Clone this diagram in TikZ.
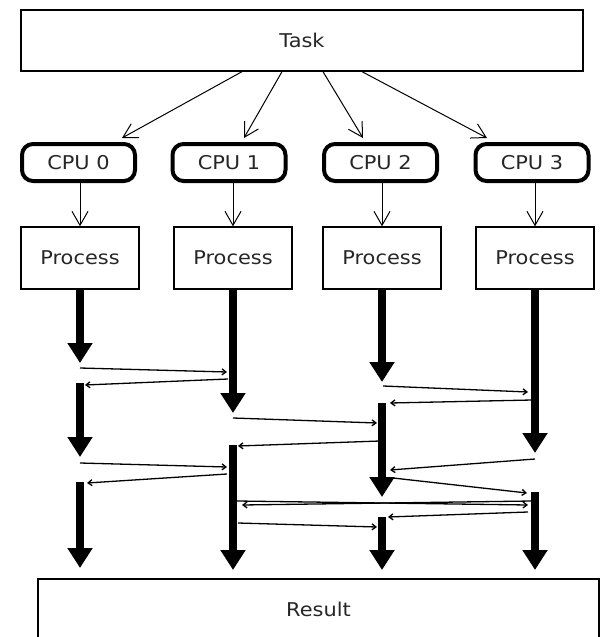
\documentclass[tikz,border=0pt]{standalone}
\usepackage{fontspec}
\setmainfont{DejaVu Sans}[FakeStretch=1.1]
\usetikzlibrary{arrows.meta}
\begin{document}
\begin{tikzpicture}[x=1pt,y=-1pt,
  every node/.style={font=\fontsize{19pt}{22pt}\selectfont, text=black!85, inner sep=0pt},
  plainbox/.style={draw, line width=1.3pt, rectangle},
  cpubox/.style={draw, line width=4pt, rounded corners=11pt, minimum width=113pt, minimum height=37pt},
  procbox/.style={plainbox, minimum width=118pt, minimum height=62pt},
  link/.style={line width=1pt, -{Straight Barb[length=14pt,width=16pt]}},
  flow/.style={line width=8pt, -{Triangle[length=20pt,width=24pt]}},
  msg/.style={line width=1.3pt, -{Straight Barb[length=4pt,width=6pt]}}]
\useasboundingbox (0,0) rectangle (604,637);

% task and result
\node[plainbox, minimum width=562pt, minimum height=61pt] (task) at (302,40.5) {Task};
\node[plainbox, minimum width=561pt, minimum height=60pt] (result) at (318.5,609) {Result};

% processors and their processes
\foreach \i/\cx/\px in {0/78.5/80, 1/229/233, 2/380.5/382, 3/532/535}{
  \node[cpubox] (cpu\i) at (\cx,162.5) {CPU \i};
  \node[procbox] (p\i) at (\px,258) {Process};
  \draw[link] (p\i.north |- cpu\i.south) -- (p\i.north);
}

% distribution of the task
\draw[link] ([xshift=-60pt]task.south) -- ([xshift=43.5pt,yshift=4pt]cpu0.north);
\draw[link] ([xshift=-20pt]task.south) -- ([xshift=15pt,yshift=4pt]cpu1.north);
\draw[link] ([xshift=21pt]task.south) -- ([xshift=-17.5pt,yshift=4pt]cpu2.north);
\draw[link] ([xshift=60pt]task.south) -- ([xshift=-45pt,yshift=4pt]cpu3.north);

% first computation phase of every process
\foreach \i/\x/\y in {0/80/363, 1/233/413, 2/382/382, 3/535/453}{
  \coordinate (e\i) at (\x,\y);
  \draw[flow] (p\i.south) -- (e\i);
}

% later computation phases
\foreach \n/\x/\ya/\yb in {0b/80/383/457, 0c/80/482/568, 1b/233/445/570,
                          2b/382/403/497, 2c/382/517/570, 3b/535/492/570}{
  \coordinate (s\n) at (\x,\ya);
  \coordinate (t\n) at (\x,\yb);
  \draw[flow] (s\n) -- (t\n);
}

% messages exchanged between the processes
\foreach \n/\xa/\ya/\xb/\yb in {
   1/80/368/227/372,   2/228/379/85/385,
   3/80/463/227/467,   4/227/474/87/483,
   5/233/418/377/423,  6/380/441/238/446,
   7/383/386/528/392,  8/532/400/390/403,
   9/535/459/390/470, 10/393/478/527/493,
  11/237/501/528/505, 12/532/501/242/505,
  13/528/512/388/517, 14/238/523/377/527}{
  \coordinate (ma\n) at (\xa,\ya);
  \coordinate (mb\n) at (\xb,\yb);
  \draw[msg] (ma\n) -- (mb\n);
}
\end{tikzpicture}
\end{document}
